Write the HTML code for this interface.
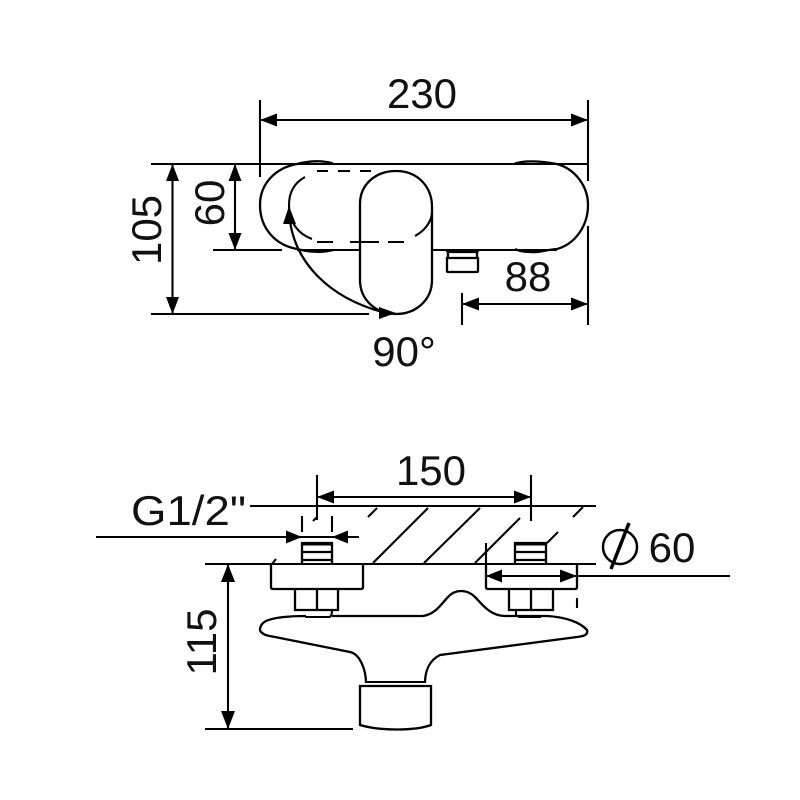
<!DOCTYPE html>
<html><head><meta charset="utf-8"><style>
html,body{margin:0;padding:0;background:#fff}
svg{display:block}
text{font-family:"Liberation Sans",sans-serif;font-size:42px;fill:#111}
.a{fill:#000;stroke:none}
</style></head><body>
<svg width="800" height="800" viewBox="0 0 800 800" xmlns="http://www.w3.org/2000/svg">
<g fill="none" stroke="#000" stroke-width="2.1">
<!-- top view lines -->
<path d="M151 164H588M151 314H369M213 250H282M297 250H360M432 250H557"/>
<path d="M260 100V177M588 100V181M588 226V325M462 293V325"/>
<path d="M260 120H588M172.500 164V314M235 164V250M462 304H588"/>
<!-- body -->
<path d="M297 164C275 168 260 184 260 205C260 228 275 245 297 249C308 252 322 253 333 250" stroke-width="2.300"/>
<path d="M297 164C308 161 322 160 333 163.500" stroke-width="2.300"/>
<path d="M515 163.500C526 160 540 161 557 164C575 169 588 186 588 205C588 226 575 244 557 249C545 250 538 253 530 252C524 252 519 251 515 249" stroke-width="2.300"/>
<!-- handle -->
<path d="M360 204C360 184 376 171 396 171C418 171 432 187 432 207V280C432 300 416 314 396 314C376 314 360 300 360 280Z" stroke-width="2.300"/>
<!-- dashed inner -->
<path d="M305 177C294 183 289 193 289 205C289 222 298 234 312 239"/>
<path d="M317 171H328M338 171H350M360 171H371M317 242H333M350 242H360M360 242H379M388 242H404"/>
<path d="M415 236C424 231 431 223 432 213"/>
<!-- 90 arc -->
<path d="M289 210C291 262 330 300 390 314" stroke-width="2.300"/>
<!-- outlet -->
<path d="M447 258H478V271Q478 272 477 272H448Q447 272 447 271ZM448 258V252H477V258M446 251H479" stroke-width="2.300"/>
<!-- bottom view lines -->
<path d="M250 506H596M205 564H596M205 729H353"/>
<path d="M317 475V520M531 475V521M302 516V532M332 516V532M577 598V608M486 543V564"/>
<path d="M317 497H531M96 537H359M228 564V729M486 576H730"/>
<!-- hatch -->
<path d="M368 517L377 508M373 563L428 508M424 563L480 508M475 563L520 518M547 543L558 532M573 517L583 507M272 564L276 559M313 521L317 517"/>
<!-- nipples -->
<path d="M302 564V543H332V564M302 552H332M302 560H332" stroke-width="2.300"/>
<path d="M515 564V543H546V564M515 552H546M515 560H546" stroke-width="2.300"/>
<path d="M302 544H332M515 544H546" stroke-width="3"/>
<!-- flanges -->
<path d="M271 564V587Q271 589 273 589H361Q363 589 363 587V564" stroke-width="2.300"/>
<path d="M486 564V587Q486 589 488 589H575Q577 589 577 587V564" stroke-width="2.300"/>
<!-- nuts -->
<path d="M295 590V610H338V590M317 590V610" stroke-width="2.300"/>
<path d="M509 590V610H553V590M531 590V610" stroke-width="2.300"/>
<path d="M306 616V617H329Q332 617 332 610M516 610V616M518 617H541"/>
<!-- body -->
<path d="M306 616C290 616 275 617 266 621C260 624 259 630 261 632C265 636 270 636 275 637L350 652C360 654 366 670 366 683" stroke-width="2.300"/>
<path d="M332 616H423C436 614 442 603 448 597C455 589 467 589 475 597C482 604 490 616 505 616H547C565 617 580 622 587 630C588 634 586 636 577 637L440 655C430 660 425 670 425 683" stroke-width="2.300"/>
<!-- lower handle -->
<path d="M366 682H424M366 686H424"/>
<path d="M360 686H431V725C415 731 380 731 360 725Z" stroke-width="2.300"/>
<!-- phi -->
<circle cx="620" cy="547" r="17" stroke-width="2.500"/>
<path d="M629 523L611 569" stroke-width="3.500"/>
</g>
<g class="a">
<polygon points="260,120 277,113.500 277,126.500"/>
<polygon points="588,120 571,113.500 571,126.500"/>
<polygon points="172.500,164 166,181 179,181"/>
<polygon points="172.500,314 166,297 179,297"/>
<polygon points="235,164 228.500,181 241.500,181"/>
<polygon points="235,250 228.500,233 241.500,233"/>
<polygon points="462,304 479,297.500 479,310.500"/>
<polygon points="588,304 571,297.500 571,310.500"/>
<polygon points="289,206 283,224 296,224"/>
<polygon points="396,313 379,307 379,319"/>
<polygon points="317,497 334,490.500 334,503.500"/>
<polygon points="531,497 514,490.500 514,503.500"/>
<polygon points="302,537 286,530.500 286,543.500"/>
<polygon points="332,537 348,530.500 348,543.500"/>
<polygon points="228,564 221,582 235,582"/>
<polygon points="228,729 221,711 235,711"/>
<polygon points="486,576 502,569.500 502,582.500"/>
<polygon points="577,576 560,569.500 560,582.500"/>
</g>
<text x="422" y="108" text-anchor="middle">230</text>
<text x="528" y="291" text-anchor="middle">88</text>
<text x="404" y="366" text-anchor="middle">90°</text>
<text x="431" y="485" text-anchor="middle">150</text>
<text x="131" y="525" textLength="115" lengthAdjust="spacingAndGlyphs">G1/2"</text>
<text x="672" y="562" text-anchor="middle">60</text>
<text transform="translate(161 230) rotate(-90)" text-anchor="middle">105</text>
<text transform="translate(224 203) rotate(-90)" text-anchor="middle">60</text>
<text transform="translate(216 642) rotate(-90)" text-anchor="middle">115</text>
</svg>
</body></html>
